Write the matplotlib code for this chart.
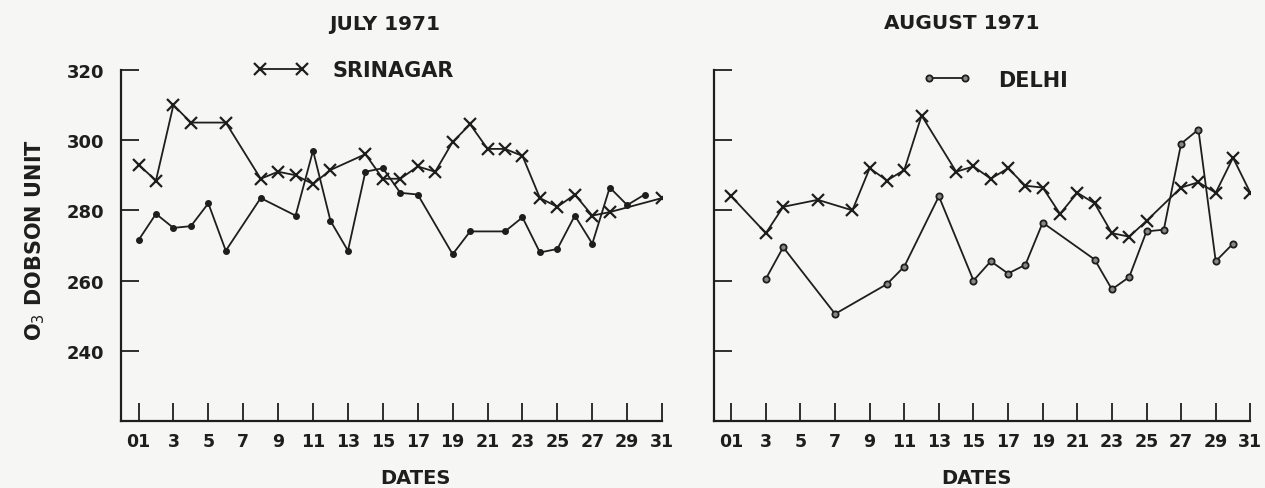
import numpy as np
import matplotlib
matplotlib.use("Agg")
import matplotlib.pyplot as plt

# ---- data (O3 Dobson units) ----
july_srinagar_days = [1, 2, 3, 4, 6, 8, 9, 10, 11, 12, 14, 15, 16, 17, 18, 19, 20,
                      21, 22, 23, 24, 25, 26, 27, 28, 31]
july_srinagar = [293, 288.5, 310, 305, 305, 289, 291, 290, 287.5, 291.5, 296, 289,
                 289, 292.5, 291, 299.5, 304.5, 297.5, 297.5, 295.5, 283.5, 281,
                 284.5, 278.5, 279.5, 283.5]

july_delhi_days = [1, 2, 3, 4, 5, 6, 8, 10, 11, 12, 13, 14, 15, 16, 17, 19, 20, 22,
                   23, 24, 25, 26, 27, 28, 29, 30]
july_delhi = [271.5, 279, 275, 275.5, 282, 268.5, 283.5, 278.5, 297, 277, 268.5,
              291, 292, 285, 284.5, 267.5, 274, 274, 278, 268, 269, 278.5, 270.5,
              286.5, 281.5, 284.5]

aug_srinagar_days = [1, 3, 4, 6, 8, 9, 10, 11, 12, 14, 15, 16, 17, 18, 19, 20, 21,
                     22, 23, 24, 25, 27, 28, 29, 30, 31]
aug_srinagar = [284, 273.5, 281, 283, 280, 292, 288.5, 291.5, 307, 291, 292.5, 289,
                292, 287, 286.5, 279, 285, 282, 273.5, 272.5, 277, 286.5, 288, 285,
                295, 285]

aug_delhi_days = [3, 4, 7, 10, 11, 13, 15, 16, 17, 18, 19, 22, 23, 24, 25, 26, 27,
                  28, 29, 30]
aug_delhi = [260.5, 269.5, 250.5, 259, 264, 284, 260, 265.5, 262, 264.5, 276.5, 266,
             257.5, 261, 274, 274.5, 299, 303, 265.5, 270.5]

date_ticks = list(range(1, 32, 2))
date_labels = ["01"] + [str(d) for d in date_ticks[1:]]
ozone_ticks = [240, 260, 280, 300, 320]

INK = "#1e1e1e"
BG = "#f6f6f4"
FONT = dict(family="DejaVu Sans", weight="bold", color=INK)

fig = plt.figure(figsize=(12.65, 4.89), dpi=100, facecolor=BG)
ax1 = fig.add_axes([0.0957, 0.137, 0.4277, 0.718])
ax2 = fig.add_axes([0.5644, 0.137, 0.4240, 0.718])


def style_axis(ax, show_ylabels, xlabel_x):
    ax.set_facecolor(BG)
    ax.set_xlim(0, 31)
    ax.set_ylim(220, 320)
    for s in ["top", "right"]:
        ax.spines[s].set_visible(False)
    for s in ["left", "bottom"]:
        ax.spines[s].set_linewidth(1.6)
        ax.spines[s].set_color(INK)
    ax.set_xticks(date_ticks)
    ax.set_xticklabels(date_labels)
    ax.set_yticks(ozone_ticks)
    if show_ylabels:
        ax.set_yticklabels([str(v) for v in ozone_ticks])
    else:
        ax.set_yticklabels([])
    ax.tick_params(axis="both", direction="in", length=13, width=1.3, color=INK,
                   labelcolor=INK, labelsize=12.5)
    ax.tick_params(axis="x", pad=8)
    ax.tick_params(axis="y", pad=12, labelsize=13)
    for lab in ax.get_xticklabels() + ax.get_yticklabels():
        lab.set_fontweight("bold")
    ax.set_xlabel("DATES", fontsize=14, **FONT)
    ax.xaxis.set_label_coords(xlabel_x, -0.135)


style_axis(ax1, True, 0.545)
style_axis(ax2, False, 0.49)

line_kw = dict(color=INK, linewidth=1.3)
sx1, = ax1.plot(july_srinagar_days, july_srinagar, marker="x", markersize=8,
                markeredgewidth=1.6, **line_kw)
ax1.plot(july_delhi_days, july_delhi, marker="o", markersize=4, **line_kw)
ax2.plot(aug_srinagar_days, aug_srinagar, marker="x", markersize=8,
         markeredgewidth=1.6, **line_kw)
dl2, = ax2.plot(aug_delhi_days, aug_delhi, marker="o", markersize=4.5,
                markerfacecolor="#888888", markeredgewidth=1.3, **line_kw)

leg1 = ax1.legend([sx1], ["SRINAGAR"], loc="center left", bbox_to_anchor=(0.245, 1.0),
                  frameon=False, numpoints=2, handlelength=2.6, handletextpad=1.2,
                  borderpad=0, borderaxespad=0, prop=dict(family="DejaVu Sans",
                                                          weight="bold", size=15))
leg2 = ax2.legend([dl2], ["DELHI"], loc="center left", bbox_to_anchor=(0.39, 0.972),
                  frameon=False, numpoints=2, handlelength=2.3, handletextpad=1.3,
                  borderpad=0, borderaxespad=0, prop=dict(family="DejaVu Sans",
                                                          weight="bold", size=15))
for leg in (leg1, leg2):
    for t in leg.get_texts():
        t.set_color(INK)

fig.text(0.304, 0.949, "JULY 1971", ha="center", va="center", fontsize=14.5, **FONT)
fig.text(0.760, 0.951, "AUGUST 1971", ha="center", va="center", fontsize=14.5, **FONT)
fig.text(0.028, 0.51, "O$_3$ DOBSON UNIT", rotation=90, ha="center", va="center",
         fontsize=15, **FONT)

fig.savefig("out.png", dpi=100, facecolor=BG)
